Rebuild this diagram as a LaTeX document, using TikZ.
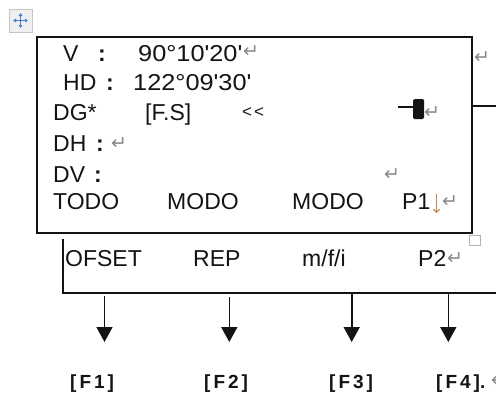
\documentclass[tikz,border=0pt]{standalone}
\usepackage{fontspec}
\setmainfont{Liberation Sans}
\newfontfamily\plainarial{Liberation Sans}
\newfontfamily\dejavu{DejaVu Sans}
\usetikzlibrary{arrows.meta}
\definecolor{ink}{HTML}{141414}
\definecolor{retgray}{HTML}{8A8A8A}
\definecolor{iconblue}{HTML}{3F7FD9}
\definecolor{brkcol}{HTML}{C8864E}
\begin{document}
\begin{tikzpicture}[x=1pt,y=-1pt,
 txt/.style={anchor=base west,inner sep=0pt,text=ink,font=\plainarial\fontsize{23}{23}\selectfont},
 small/.style={anchor=base west,inner sep=0pt,text=ink,font=\plainarial\fontsize{17}{17}\selectfont},
 ret/.style={anchor=base west,inner sep=0pt,text=retgray,font=\dejavu\fontsize{19}{19}\selectfont},
 fkey/.style={anchor=base west,inner sep=0pt,text=ink,font=\plainarial\bfseries\fontsize{19}{19}\selectfont},
 boxline/.style={draw=ink,line width=1.5pt},
 thinline/.style={draw=ink,line width=1.3pt},
 arr/.style={draw=ink,line width=1.6pt,-{Triangle[width=16pt,length=15pt]}}
]
\useasboundingbox (0,0) rectangle (496,394);
\fill[white] (0,0) rectangle (496,394);
% move icon
\draw[draw=gray!45,fill=gray!12,line width=0.8pt] (9,9) rectangle (32,32);
\draw[iconblue,line width=1.3pt,{Latex[length=3pt,width=4.5pt]}-{Latex[length=3pt,width=4.5pt]}] (13,20.5) -- (28,20.5);
\draw[iconblue,line width=1.3pt,{Latex[length=3pt,width=4.5pt]}-{Latex[length=3pt,width=4.5pt]}] (20.5,13) -- (20.5,28);
% screen box
\draw[boxline] (37,37) rectangle (472,233);
\coordinate (se) at (472,106);
\coordinate (seend) at (496,106);
\draw[thinline] (se) -- (seend);
% small handle square
\draw[draw=gray!60,fill=white,line width=1pt] (469,235) rectangle (480,245);
% second row frame
\coordinate (vt) at (63,239);
\coordinate (vb) at (63,293);
\coordinate (he) at (496,293);
\draw[thinline] (vt) -- (vb) -- (he);
% rows
\node[txt] (v) at (63,61) {V};
\node[txt] (vc) at (98,61) {\textbf{:}};
\node[txt] (vval) at (138,61) {\scalebox{1.1}[1]{90°10'20'}};
\node[ret] (vr) at (243,57) {↵};
\node[ret] (outr) at (474,63) {↵};
\node[txt] (hd) at (63,90) {HD};
\node[txt] (hdc) at (106,90) {\textbf{:}};
\node[txt] (hdval) at (133,90) {\scalebox{1.1}[1]{122°09'30'}};
\node[txt] (dg) at (53,120) {DG*};
\node[txt] (fs) at (145,120) {[F.S]};
\node[small] (ll) at (242,117) {<\hspace{2pt}<};
\coordinate (cl) at (398,107);
\coordinate (cr) at (413,107);
\draw[line width=1.3pt,ink] (cl) -- (cr);
\fill[ink,rounded corners=1.5pt] (413,99) rectangle (424,119);
\node[ret] (dgr) at (424,118) {↵};
\node[txt] (dh) at (53,151) {DH};
\node[txt] (dhc) at (96,151) {\textbf{:}};
\node[ret] (dhr) at (111,149) {↵};
\node[txt] (dv) at (53,182) {DV};
\node[txt] (dvc) at (94,182) {\textbf{:}};
\node[ret] (dvr) at (384,180) {↵};
\node[txt] (todo) at (53,209) {TODO};
\node[txt] (modo1) at (167,209) {MODO};
\node[txt] (modo2) at (292,209) {MODO};
\node[txt] (p1) at (402,209) {P1};
\coordinate (bt) at (436.5,194);
\coordinate (bb) at (436.5,213);
\draw[brkcol,line width=1.1pt,-{Straight Barb[length=3pt,width=6pt]}] (bt) -- (bb);
\node[ret] (p1r) at (442,207) {↵};
% second row
\node[txt] (ofs) at (65,266) {OFSET};
\node[txt] (rep) at (193,266) {REP};
\node[txt] (mfi) at (302,266) {m/f/i};
\node[txt] (p2) at (418,266) {P2};
\node[ret] (p2r) at (447,264) {↵};
% arrows
\coordinate (a1) at (104.5,296); \coordinate (b1) at (104.5,342);
\coordinate (a2) at (229.3,297); \coordinate (b2) at (229.3,342);
\coordinate (a3) at (351.7,294); \coordinate (b3) at (351.7,342);
\coordinate (a4) at (448.3,294); \coordinate (b4) at (448.3,342);
\draw[arr] (a1) -- (b1);
\draw[arr] (a2) -- (b2);
\draw[arr] (a3) -- (b3);
\draw[arr] (a4) -- (b4);
% function keys
\newcommand{\fgap}{\hspace{3pt}}
\node[fkey] (f1) at (70,388) {[\fgap F\fgap 1\fgap ]};
\node[fkey] (f2) at (204,388) {[\fgap F\fgap 2\fgap ]};
\node[fkey] (f3) at (329,388) {[\fgap F\fgap 3\fgap ]};
\node[fkey] (f4) at (436,388) {[\fgap F\fgap 4\fgap ].};
\node[ret] (f4r) at (491,386) {↵};
\end{tikzpicture}
\end{document}
